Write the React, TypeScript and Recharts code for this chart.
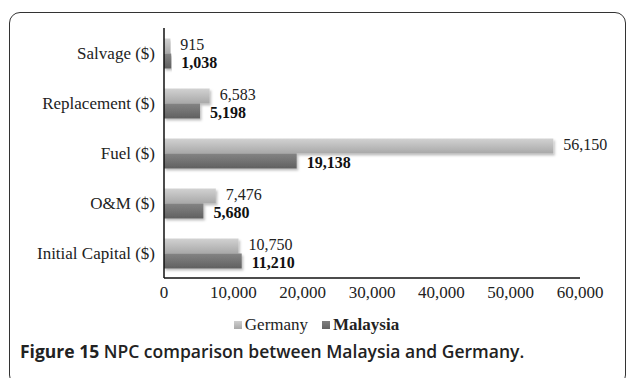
import { Bar, BarChart, LabelList, Legend, XAxis, YAxis } from "recharts";

const categorias = ["Salvage ($)", "Replacement ($)", "Fuel ($)", "O&M ($)", "Initial Capital ($)"];
const germany = [915, 6583, 56150, 7476, 10750];
const malaysia = [1038, 5198, 19138, 5680, 11210];
const ticksX = [0, 10000, 20000, 30000, 40000, 50000, 60000];

const datos = categorias.map((nombre, i) => ({
    nombre,
    germany: germany[i],
    malaysia: malaysia[i],
}));

const serif = "'Liberation Serif', 'Times New Roman', serif";
const formatearMiles = (v: number) => v.toLocaleString("en-US");

function LeyendaPaises() {
    return (
        <div
            style={{
                display: "flex",
                justifyContent: "center",
                alignItems: "center",
                fontFamily: serif,
                fontSize: 17,
                color: "#222",
                gap: 14,
                paddingLeft: 6,
            }}
        >
            <span style={{ display: "flex", alignItems: "center", gap: 3 }}>
                <span style={{ width: 8, height: 8, background: "linear-gradient(#cfcfcf, #a9a9a9)" }} />
                Germany
            </span>
            <span style={{ display: "flex", alignItems: "center", gap: 3, fontWeight: 700 }}>
                <span style={{ width: 8, height: 8, background: "linear-gradient(#808080, #636363)" }} />
                Malaysia
            </span>
        </div>
    );
}

export default function App() {
    return (
        <div style={{ position: "absolute", left: 0, top: 0, width: 627, height: 378, overflow: "hidden", background: "#fff" }}>
            <div
                style={{
                    position: "absolute",
                    left: 9,
                    top: 12,
                    width: 617,
                    height: 374,
                    border: "1.5px solid #333",
                    borderRadius: 11,
                    boxSizing: "border-box",
                }}
            />
            <div style={{ position: "absolute", left: 0, top: 0 }}>
                <BarChart
                    width={627}
                    height={340}
                    data={datos}
                    layout="vertical"
                    margin={{ top: 28, right: 47, bottom: 32, left: 0 }}
                    barCategoryGap="21%"
                    barGap={0}
                >
                    <defs>
                        <linearGradient id="gradGermany" x1="0" y1="0" x2="0" y2="1">
                            <stop offset="0%" stopColor="#d2d2d2" />
                            <stop offset="100%" stopColor="#a8a8a8" />
                        </linearGradient>
                        <linearGradient id="gradMalaysia" x1="0" y1="0" x2="0" y2="1">
                            <stop offset="0%" stopColor="#848484" />
                            <stop offset="100%" stopColor="#606060" />
                        </linearGradient>
                        <filter id="sombra" x="-5%" y="-20%" width="115%" height="160%">
                            <feDropShadow dx="1.5" dy="2" stdDeviation="1.2" floodColor="#000" floodOpacity="0.25" />
                        </filter>
                    </defs>
                    <XAxis
                        type="number"
                        domain={[0, 60000]}
                        ticks={ticksX}
                        tickFormatter={formatearMiles}
                        axisLine={{ stroke: "#111", strokeWidth: 1.5 }}
                        tickLine={false}
                        tickSize={0}
                        tickMargin={8}
                        height={30}
                        tick={{ fill: "#222", fontSize: 17, fontFamily: serif }}
                    />
                    <YAxis
                        type="category"
                        dataKey="nombre"
                        width={164}
                        axisLine={{ stroke: "#111", strokeWidth: 1.5 }}
                        tickLine={false}
                        tickSize={0}
                        tickMargin={9}
                        tick={{ fill: "#222", fontSize: 17, fontFamily: serif }}
                    />
                    <Legend
                        layout="horizontal"
                        verticalAlign="middle"
                        align="center"
                        wrapperStyle={{ top: 315, left: 0, width: 627 }}
                        content={() => <LeyendaPaises />}
                    />
                    <Bar dataKey="germany" fill="url(#gradGermany)" filter="url(#sombra)" isAnimationActive={false}>
                        <LabelList
                            dataKey="germany"
                            position="right"
                            offset={10}
                            formatter={(v: number) => formatearMiles(v)}
                            style={{ fill: "#222", fontSize: 16, fontFamily: serif }}
                            dy={-2}
                        />
                    </Bar>
                    <Bar dataKey="malaysia" fill="url(#gradMalaysia)" filter="url(#sombra)" isAnimationActive={false}>
                        <LabelList
                            dataKey="malaysia"
                            position="right"
                            offset={10}
                            formatter={(v: number) => formatearMiles(v)}
                            style={{ fill: "#111", fontSize: 16, fontWeight: 700, fontFamily: serif }}
                            dy={1}
                        />
                    </Bar>
                </BarChart>
            </div>
            <div
                style={{
                    position: "absolute",
                    left: 20,
                    top: 340,
                    fontFamily: "'Open Sans', 'Noto Sans', sans-serif",
                    fontSize: 17.5,
                    fontWeight: 600,
                    color: "#222",
                    whiteSpace: "nowrap",
                    lineHeight: "22px",
                }}
            >
                <span style={{ fontWeight: 700 }}>Figure 15</span> NPC comparison between Malaysia and Germany.
            </div>
        </div>
    );
}
